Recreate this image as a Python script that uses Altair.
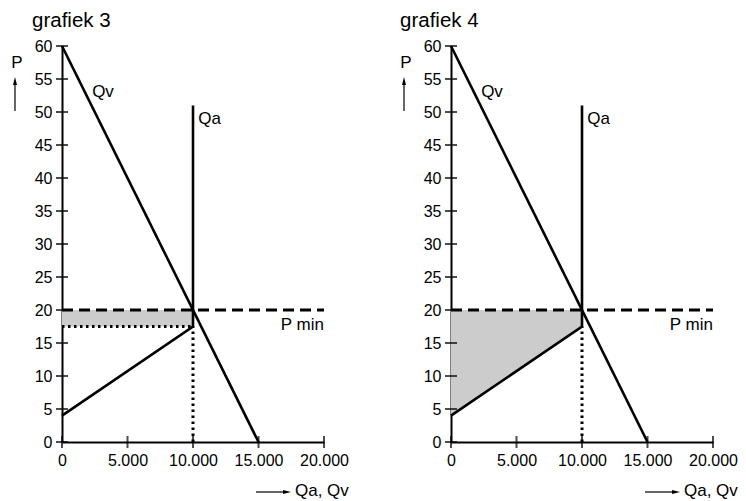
import altair as alt
import pandas as pd

# ---- data ----
x_ticks = [0, 5000, 10000, 15000, 20000]
y_ticks = [0, 5, 10, 15, 20, 25, 30, 35, 40, 45, 50, 55, 60]

qv_x = [0, 15000]
qv_y = [60, 0]
qa_x = [0, 10000, 10000]
qa_y = [4, 17.5, 51]
pmin_x = [0, 20000]
pmin_y = [20, 20]

dot_h_x = [0, 10000]
dot_h_y = [17.5, 17.5]
dot_v_x = [10000, 10000]
dot_v_y = [0, 17.5]

shade3_x = [0, 10000]
shade3_lo = [17.5, 17.5]
shade3_hi = [20, 20]
shade4_x = [0, 10000]
shade4_lo = [4, 17.5]
shade4_hi = [20, 20]

labels_text = ["Qv", "Qa"]
labels_x = [2300, 10400]
labels_y = [53, 49]
pmin_label = "P min"
pmin_label_x = 20000
pmin_label_y = 17.7

titles = ["grafiek 3", "grafiek 4"]

FONT = "Liberation Sans"
W, H = 262, 396

xs = alt.Scale(domain=[0, 20000], nice=False, zero=False)
ys = alt.Scale(domain=[0, 60], nice=False, zero=False)

X_AXIS = alt.Axis(
    values=x_ticks,
    labelExpr="replace(format(datum.value, ','), ',', '.')",
)
Y_AXIS = alt.Axis(values=y_ticks)


def X(field="x"):
    return alt.X(f"{field}:Q", scale=xs, axis=X_AXIS, title=None)


def Y(field="y"):
    return alt.Y(f"{field}:Q", scale=ys, axis=Y_AXIS, title=None)


def line_layer(xv, yv, dash=None, width=2.6):
    df = pd.DataFrame({"x": xv, "y": yv, "o": list(range(len(xv)))})
    kw = dict(color="black", strokeWidth=width)
    if dash:
        kw["strokeDash"] = dash
    return alt.Chart(df).mark_line(**kw).encode(x=X(), y=Y(), order="o:Q")


def panel(title, sx, slo, shi, dotted, title_dx):
    one = alt.Data(values=[{}])
    shade = alt.Chart(pd.DataFrame({"x": sx, "lo": slo, "hi": shi})).mark_area(
        color="#cccccc", opacity=1
    ).encode(x=X(), y=Y("lo"), y2="hi:Q")

    yt = alt.Chart(pd.DataFrame({"y": y_ticks, "x": [0] * len(y_ticks)})).mark_tick(
        orient="horizontal", size=12, thickness=2, color="black"
    ).encode(x=X(), y=Y())
    xt = alt.Chart(pd.DataFrame({"x": x_ticks, "y": [0] * len(x_ticks)})).mark_tick(
        orient="vertical", size=12, thickness=2, color="black"
    ).encode(x=X(), y=Y())

    dots = [line_layer(a, b, dash=[2.5, 3.5], width=3) for a, b in dotted]
    dashed = line_layer(pmin_x, pmin_y, dash=[11, 6], width=3)
    qv = line_layer(qv_x, qv_y)
    qa = line_layer(qa_x, qa_y)

    lbl = alt.Chart(pd.DataFrame({"t": labels_text, "x": labels_x, "y": labels_y})).mark_text(
        align="left", baseline="middle", font=FONT, fontSize=17, color="black"
    ).encode(x=X(), y=Y(), text="t:N")
    pm = alt.Chart(pd.DataFrame({"t": [pmin_label], "x": [pmin_label_x], "y": [pmin_label_y]})).mark_text(
        align="right", baseline="middle", font=FONT, fontSize=17, color="black"
    ).encode(x=X(), y=Y(), text="t:N")

    ttl = alt.Chart(one).mark_text(
        align="left", baseline="alphabetic", font=FONT, fontSize=20.5, color="black"
    ).encode(x=alt.value(title_dx), y=alt.value(-19), text=alt.value(title))

    p_txt = alt.Chart(one).mark_text(
        align="center", baseline="middle", font=FONT, fontSize=17, color="black"
    ).encode(x=alt.value(-45), y=alt.value(17), text=alt.value("P"))
    p_line = alt.Chart(one).mark_rule(color="black", strokeWidth=1.2).encode(
        x=alt.value(-47), y=alt.value(36), y2=alt.value(65)
    )
    p_head = alt.Chart(one).mark_point(
        shape="M0,-1L0.5,1L-0.5,1Z", size=64, filled=True, color="black", opacity=1
    ).encode(x=alt.value(-47), y=alt.value(35))

    q_line = alt.Chart(one).mark_rule(color="black", strokeWidth=1.2).encode(
        x=alt.value(W - 68), x2=alt.value(W - 38), y=alt.value(446)
    )
    q_head = alt.Chart(one).mark_point(
        shape="M1,0L-1,-0.5L-1,0.5Z", size=64, filled=True, color="black", opacity=1
    ).encode(x=alt.value(W - 37), y=alt.value(446))
    q_txt = alt.Chart(one).mark_text(
        align="left", baseline="middle", font=FONT, fontSize=17, color="black"
    ).encode(x=alt.value(W - 29), y=alt.value(445), text=alt.value("Qa, Qv"))

    return alt.layer(
        shade, *dots, dashed, qv, qa, yt, xt, lbl, pm, ttl,
        p_txt, p_line, p_head, q_line, q_head, q_txt,
    ).properties(width=W, height=H)


g3 = panel(titles[0], shade3_x, shade3_lo, shade3_hi, [(dot_h_x, dot_h_y), (dot_v_x, dot_v_y)], -30)
g4 = panel(titles[1], shade4_x, shade4_lo, shade4_hi, [(dot_v_x, dot_v_y)], -51)

axis_cfg = alt.AxisConfig(
    ticks=False, grid=False, domainColor="black", domainWidth=2,
    labelColor="black", labelFont=FONT, labelFontSize=16, labelPadding=10,
    labelFlush=False, labelOverlap=False, labelBound=False, title=None,
)

chart = alt.hconcat(g3, g4, spacing=51).properties(
    padding={"left": 3, "top": 3, "right": 0, "bottom": 0}
).configure(
    background="white",
    view=alt.ViewConfig(stroke=None),
    axis=axis_cfg,
)

chart.save("out.html", embed_options={"renderer": "svg", "actions": False})
